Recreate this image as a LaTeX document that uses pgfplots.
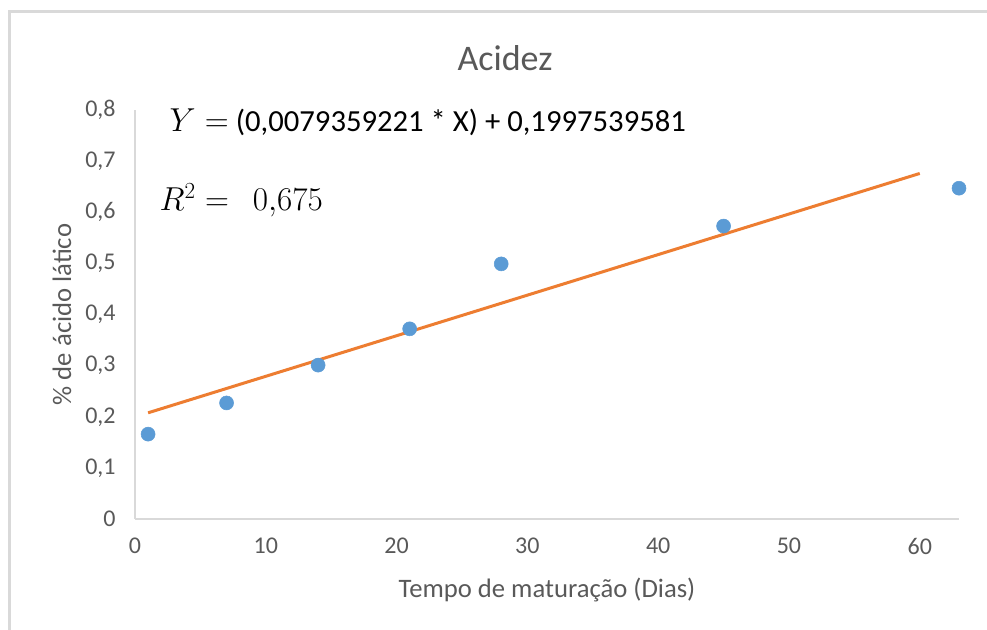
\documentclass[border=0pt]{standalone}
\usepackage{pgfplots}
\pgfplotsset{compat=1.18}
\usepackage{fontspec}
\setmainfont{Carlito}
\definecolor{ptblue}{HTML}{5B9BD5}
\definecolor{lnorange}{HTML}{ED7D31}
\definecolor{txtgray}{HTML}{595959}
\definecolor{axgray}{HTML}{D9D9D9}
\begin{document}
\begin{tikzpicture}[x=0.75pt,y=0.75pt]
\path[use as bounding box] (0,0) rectangle (987,630);
\draw[color=axgray, line width=2.25pt] (9.5,0) -- (9.5,618.5) -- (987,618.5);
\node[text=txtgray, font=\fontsize{27}{32}\selectfont] at (505,572) {Acidez};
\begin{axis}[
  at={(101.25pt,83.25pt)}, anchor=south west,
  width=618pt, height=306.75pt, scale only axis,
  xmin=0, xmax=63, ymin=0, ymax=0.8,
  axis x line*=bottom, axis y line*=left,
  axis line style={color=axgray, line width=1pt},
  xtick={0,10,20,30,40,50,60},
  ytick={0,0.1,0.2,0.3,0.4,0.5,0.6,0.7,0.8},
  major tick length=0pt,
  tick label style={text=txtgray, font=\fontsize{18}{21}\selectfont},
  xticklabel style={yshift=-11pt},
  yticklabel style={xshift=-11pt},
  /pgf/number format/.cd, use comma, fixed, precision=1, assume math mode=true,
  /pgfplots/.cd,
  xlabel={Tempo de maturação (Dias)},
  ylabel={\% de ácido lático},
  label style={text=txtgray, font=\fontsize{20}{24}\selectfont},
  xlabel style={at={(axis description cs:0.5,-0.174)}, anchor=center},
  ylabel style={at={(axis description cs:-0.0886,0.5)}, anchor=center},
  clip=false,
]
\addplot[color=lnorange, line width=2.25pt] coordinates {(1,0.2077) (60,0.6759)};
\addplot[only marks, mark=*, mark size=5.25pt, color=ptblue, mark options={draw=ptblue, fill=ptblue}]
  coordinates {(1,0.166) (7,0.227) (14,0.301) (21,0.372) (28,0.499) (45,0.573) (63,0.647)};
\end{axis}
\node[anchor=west, font=\fontsize{23}{27}\selectfont] at (165,508) {$Y=$ (0,0079359221 * X) + 0,1997539581};
\node[anchor=west, font=\fontsize{24}{28}\selectfont] at (155,430) {$R^2=\;\, 0{,}675$};
\end{tikzpicture}
\end{document}
